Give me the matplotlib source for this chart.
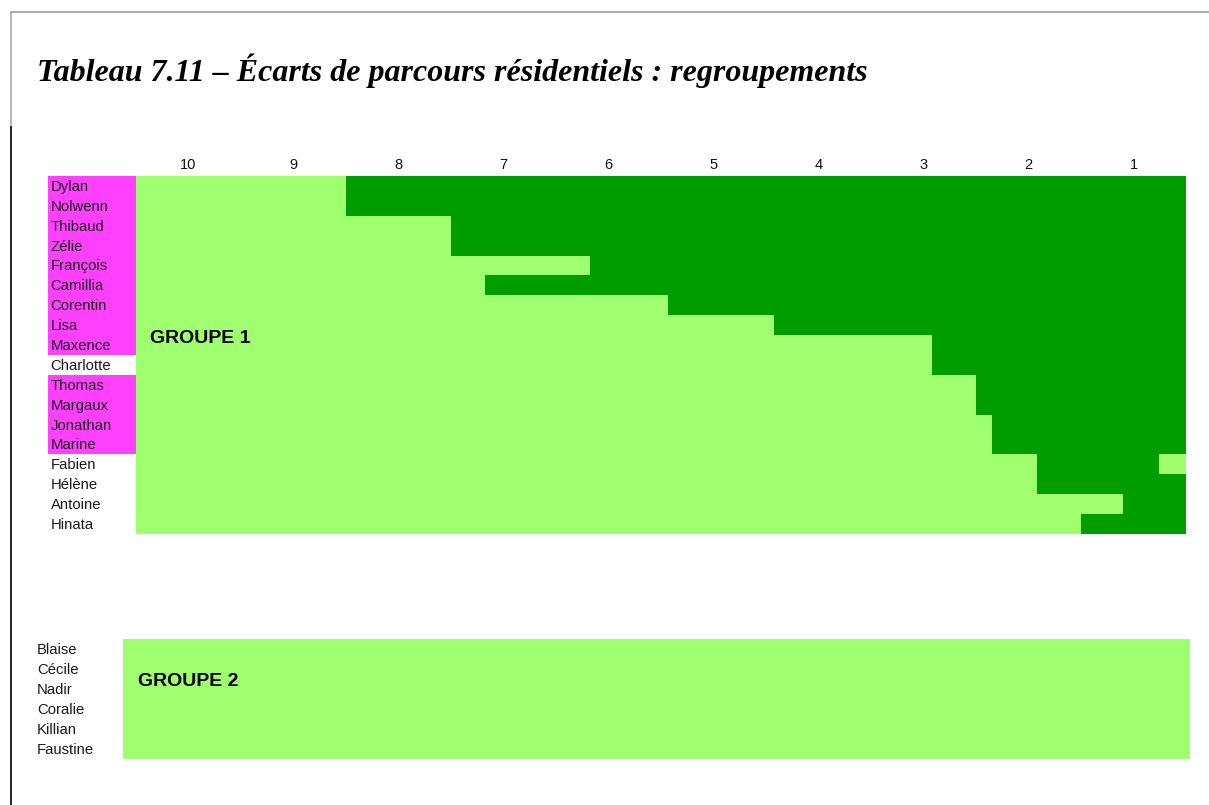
import matplotlib.pyplot as plt
from matplotlib.lines import Line2D

W, H = 1209, 805

# Groupe 1: names, start of the dark segment (on the 10..1 scale), highlighted rows
names_g1 = ["Dylan", "Nolwenn", "Thibaud", "Zélie", "François", "Camillia",
            "Corentin", "Lisa", "Maxence", "Charlotte", "Thomas", "Margaux",
            "Jonathan", "Marine", "Fabien", "Hélène", "Antoine", "Hinata"]
dark_from = [8.5, 8.5, 7.5, 7.5, 6.18, 7.18, 5.43, 4.42, 2.92, 2.92,
             2.5, 2.5, 2.35, 2.35, 1.92, 1.92, 1.1, 1.5]
highlight = [1, 1, 1, 1, 1, 1, 1, 1, 1, 0, 1, 1, 1, 1, 0, 0, 0, 0]
# light gap inside a dark segment (row, from, to)
gaps = [(14, 0.76, 0.5)]
columns = [10, 9, 8, 7, 6, 5, 4, 3, 2, 1]

# Groupe 2
names_g2 = ["Blaise", "Cécile", "Nadir", "Coralie", "Killian", "Faustine"]

LIGHT = "#9fff6f"
DARK = "#009d00"
MAGENTA = "#ff40ff"
SANS = "Liberation Sans"


def box(x0, y0, x1, y1):
    """axes rectangle from pixel corners (top-left origin)"""
    return [x0 / W, 1 - y1 / H, (x1 - x0) / W, (y1 - y0) / H]


fig = plt.figure(figsize=(W / 100, H / 100), dpi=100)
fig.patch.set_facecolor("white")

# page frame
fig.add_artist(Line2D([11 / W, 1], [1 - 12.5 / H] * 2, color="#aaaaaa", lw=1.5))
fig.add_artist(Line2D([11 / W] * 2, [1 - 12.5 / H, 1 - 127 / H], color="#aaaaaa", lw=1.2))
fig.add_artist(Line2D([11 / W] * 2, [1 - 127 / H, 0], color="black", lw=1.2))

fig.text(37 / W, 1 - 81 / H, "Tableau 7.11 – Écarts de parcours résidentiels : regroupements",
         family="Liberation Serif", weight="bold", style="italic", fontsize=23,
         ha="left", va="baseline")

n = len(names_g1)
rows = list(range(n))

# --- groupe 1 grid
ax = fig.add_axes(box(136, 176, 1186, 534))
ax.barh(rows, [10] * n, left=0.5, height=1.0, color=LIGHT, linewidth=0)
ax.barh(rows, [d - 0.5 for d in dark_from], left=0.5, height=1.0, color=DARK, linewidth=0)
for r, a, b in gaps:
    ax.barh(r, a - b, left=b, height=1.0, color=LIGHT, linewidth=0)
ax.set_xlim(10.5, 0.5)
ax.set_ylim(n - 0.5, -0.5)
ax.set_xticks(columns)
ax.set_xticklabels([str(c) for c in columns], family=SANS, fontsize=10.5, color="#111111")
ax.xaxis.tick_top()
ax.tick_params(axis="x", length=0, pad=3)
ax.set_yticks([])
for s in ax.spines.values():
    s.set_visible(False)
ax.text(0.013, 0.545, "GROUPE 1", transform=ax.transAxes, family=SANS,
        weight="bold", fontsize=14, ha="left", va="center")

# name column with highlighted rows
axn = fig.add_axes(box(48, 176, 136, 534))
axn.barh([r for r in rows if highlight[r]], 1, left=0, height=1.0,
         color=MAGENTA, linewidth=0)
for r, name in enumerate(names_g1):
    axn.text(0.03, r + 0.05, name, family=SANS, fontsize=10.7, color="#1a1a1a",
             ha="left", va="center")
axn.set_xlim(0, 1)
axn.set_ylim(n - 0.5, -0.5)
axn.axis("off")

# --- groupe 2 block
m = len(names_g2)
ax2 = fig.add_axes(box(123, 639, 1190, 759))
ax2.barh(0, 1, left=0, height=m, color=LIGHT, linewidth=0)
ax2.set_xlim(0, 1)
ax2.set_ylim(m / 2, -m / 2)
ax2.axis("off")
ax2.text(0.014, 0.645, "GROUPE 2", transform=ax2.transAxes, family=SANS,
         weight="bold", fontsize=14, ha="left", va="center")

axn2 = fig.add_axes(box(30, 639, 123, 759))
for r, name in enumerate(names_g2):
    axn2.text(7 / 93, r + 0.05, name, family=SANS, fontsize=10.7, color="#1a1a1a",
              ha="left", va="center")
axn2.set_xlim(0, 1)
axn2.set_ylim(m - 0.5, -0.5)
axn2.axis("off")

fig.savefig("out.png", dpi=100)
